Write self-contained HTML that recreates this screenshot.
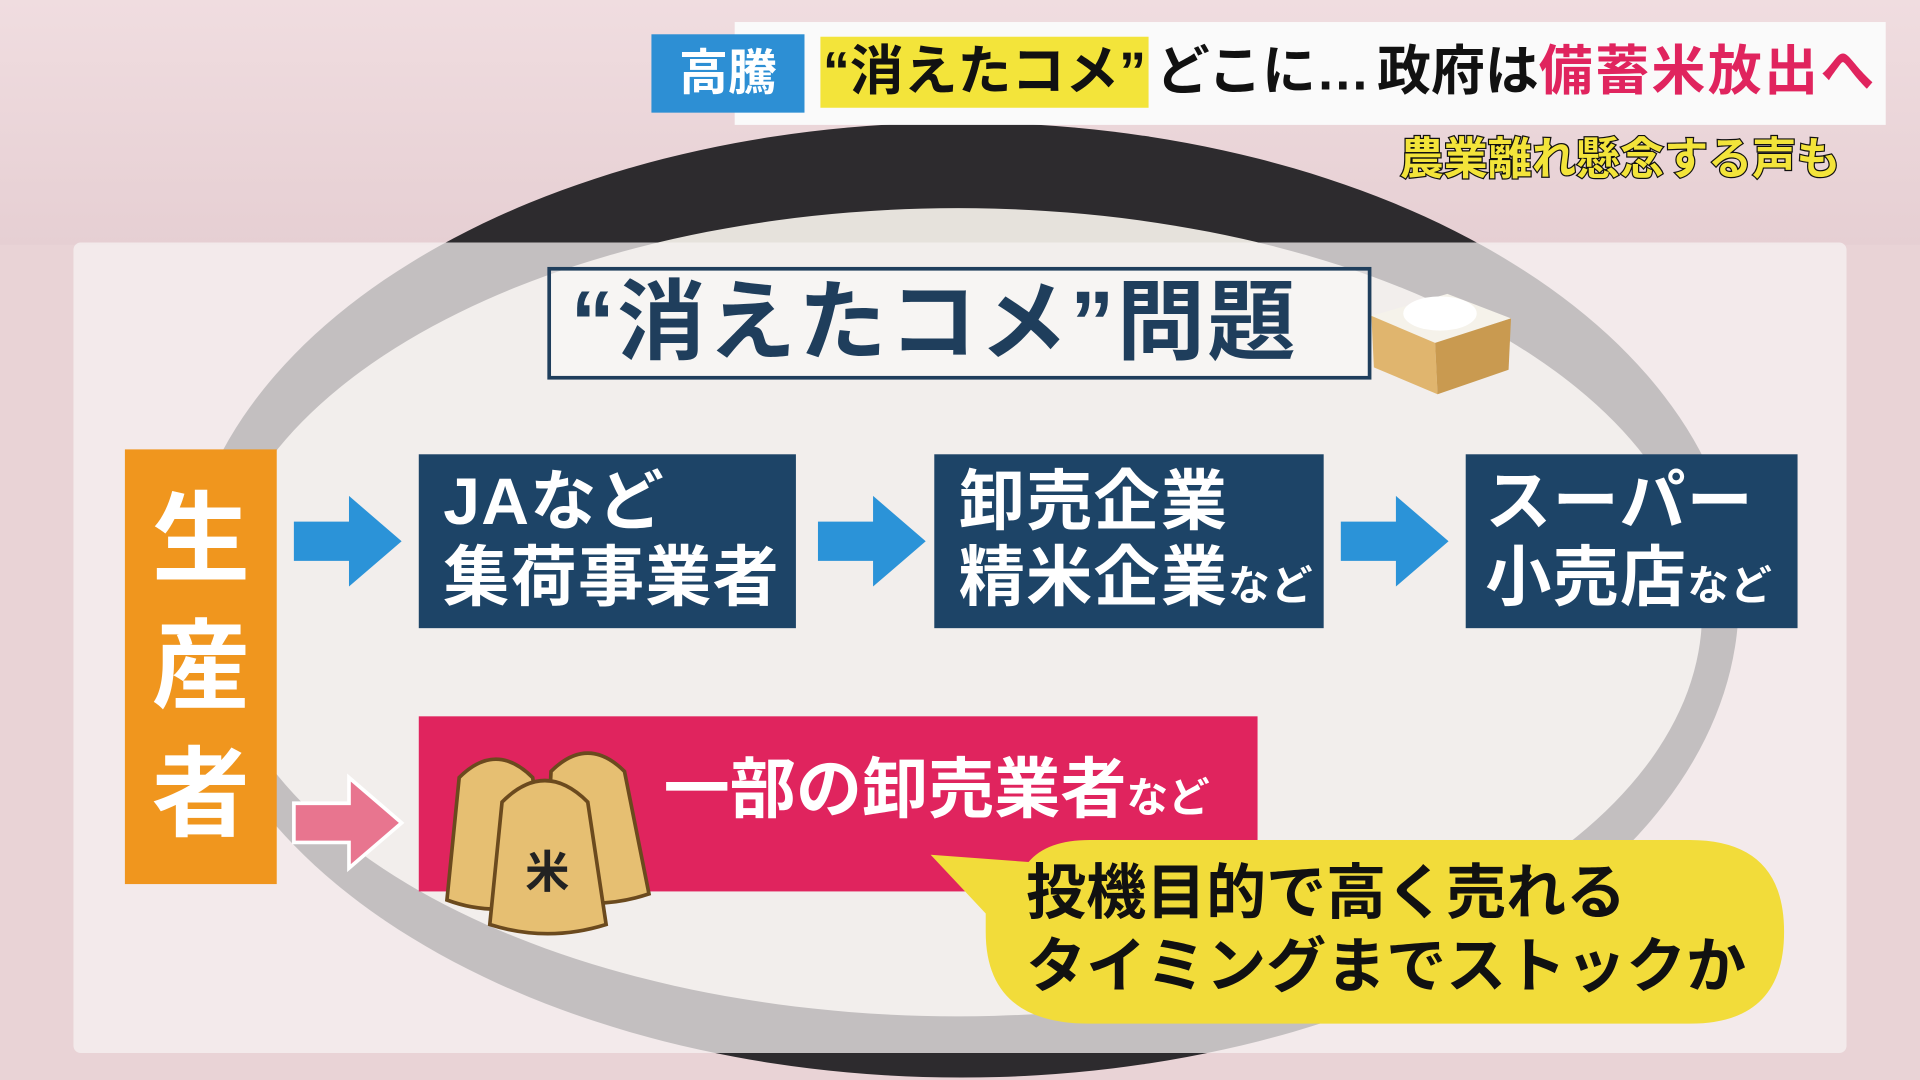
<!DOCTYPE html>
<html><head><meta charset="utf-8"><style>
html,body{margin:0;padding:0;width:1920px;height:1080px;overflow:hidden;}
#s{position:absolute;left:0;top:0;width:1568px;height:882px;transform:scale(1.22449);transform-origin:0 0;background:#e9d3d6;overflow:hidden;font-family:"Liberation Sans","Noto Sans CJK JP",sans-serif;font-weight:bold;}
.a{position:absolute;}
.nb{background:#1d4467;color:#fff;font-size:54px;line-height:62px;padding:8px 0 0 20px;box-sizing:border-box;letter-spacing:1px;white-space:nowrap}
.sm{font-size:34px;}
</style></head><body><div id="s">
<div class="a" style="left:0;top:0;width:1568px;height:200px;background:linear-gradient(#f0dde0,#e6cfd3)"></div>
<div class="a" style="left:150px;top:100px;width:1270px;height:780px;border-radius:50%;background:#2d2b2e"></div>
<div class="a" style="left:175px;top:170px;width:1215px;height:660px;border-radius:50%;background:#e6e2dc"></div>
<div class="a" style="left:60px;top:198px;width:1448px;height:662px;background:rgba(245,242,242,0.75);border-radius:6px"></div>
<!-- banner -->
<div class="a" style="left:600px;top:18px;width:940px;height:84px;background:#fafafa"></div>
<div class="a" style="left:532px;top:28px;width:125px;height:64px;background:#2d8fd4;color:#fff;font-size:40px;line-height:64px;text-align:center">高騰</div>
<div class="a" style="left:670px;top:30px;width:268px;height:58px;background:#f3e43a"></div>
<div class="a" style="left:672px;top:28px;font-size:44px;line-height:62px;color:#111;white-space:nowrap">“消えたコメ”<span style="margin-left:8px">どこに…</span><span style="margin-left:6px">政府は</span><span style="color:#e0245e;letter-spacing:2px">備蓄米放出へ</span></div>
<div class="a" style="left:1143px;top:108px;font-size:36px;line-height:44px;color:#f3e43a;-webkit-text-stroke:2px #111;paint-order:stroke fill;white-space:nowrap">農業離れ懸念する声も</div>
<!-- title -->
<div class="a" style="left:447px;top:218px;width:673px;height:92px;border:3px solid #1f3e5c;box-sizing:border-box;background:rgba(255,255,255,0.4);color:#1f3e5c;font-size:72px;line-height:86px;padding-left:16px;letter-spacing:2px;white-space:nowrap">“消えたコメ”問題</div>
<svg class="a" style="left:1112px;top:218px" width="125" height="106"><polygon points="8,40 70,22 122,42 60,62" fill="#f5f2ea"/><polygon points="8,40 60,62 62,104 10,82" fill="#e0b56e"/><polygon points="60,62 122,42 120,84 62,104" fill="#c99a50"/><ellipse cx="64" cy="38" rx="30" ry="14" fill="#fff"/></svg>
<!-- producer -->
<div class="a" style="left:102px;top:367px;width:124px;height:355px;background:#f0961e;color:#fff;font-size:80px;line-height:104px;text-align:center;padding-top:22px;box-sizing:border-box">生<br>産<br>者</div>
<svg class="a" style="left:0;top:0" width="1568" height="882">
<g fill="#2b93d8"><polygon points="240,426 285,426 285,405 328,442 285,479 285,458 240,458"/><polygon points="668,426 713,426 713,405 756,442 713,479 713,458 668,458"/><polygon points="1095,426 1140,426 1140,405 1183,442 1140,479 1140,458 1095,458"/></g>
<polygon points="240,656 285,656 285,635 328,672 285,709 285,688 240,688" fill="#e8758f" stroke="#fff" stroke-width="3"/>
</svg>
<div class="a nb" style="left:342px;top:371px;width:308px;height:142px">JAなど<br>集荷事業者</div>
<div class="a nb" style="left:763px;top:371px;width:318px;height:142px">卸売企業<br>精米企業<span class="sm">など</span></div>
<div class="a nb" style="left:1197px;top:371px;width:271px;height:142px;padding-left:16px">スーパー<br>小売店<span class="sm">など</span></div>
<div class="a" style="left:342px;top:585px;width:685px;height:143px;background:#e0245e;color:#fff;font-size:54px;line-height:120px;padding-left:200px;box-sizing:border-box;white-space:nowrap">一部の卸売業者<span class="sm">など</span></div>
<svg class="a" style="left:355px;top:595px" width="185" height="175">
<g stroke="#6b4a1e" stroke-width="3" fill="#e6bf72">
<path d="M20,40 Q50,10 80,40 L95,140 Q50,155 10,140 Z"/><path d="M95,35 Q125,5 155,35 L175,135 Q130,150 90,135 Z"/><path d="M55,60 Q90,25 125,60 L140,160 Q92,175 45,160 Z"/></g>
<text x="92" y="130" font-size="36" text-anchor="middle" fill="#222" font-family="Noto Sans CJK JP,sans-serif" font-weight="bold">米</text></svg>
<svg class="a" style="left:760px;top:686px" width="700" height="152"><path d="M0,12 L80,18 Q95,0 130,0 L620,0 Q697,0 697,75 Q697,150 620,150 L130,150 Q45,150 45,75 L45,60 Z" fill="#f2dc3a"/></svg>
<div class="a" style="left:838px;top:700px;font-size:49px;line-height:60px;color:#111;white-space:nowrap">投機目的で高く売れる<br>タイミングまでストックか</div>
</div></body></html>
